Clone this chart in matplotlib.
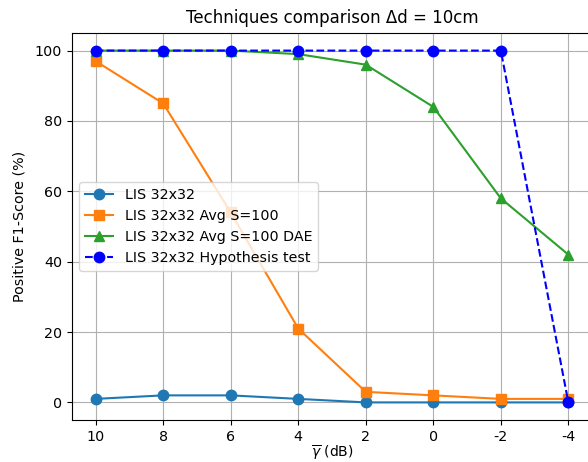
import matplotlib
matplotlib.use("Agg")
import matplotlib.pyplot as plt

x_labels = ["10", "8", "6", "4", "2", "0", "-2", "-4"]
lis = [1, 2, 2, 1, 0, 0, 0, 0]
avg = [97, 85, 54, 21, 3, 2, 1, 1]
dae = [100, 100, 100, 99, 96, 84, 58, 42]
hyp = [100, 100, 100, 100, 100, 100, 100, 0]

plt.rcParams["font.size"] = 10.3
fig = plt.figure(figsize=(5.88, 4.62), dpi=100)
ax = fig.add_axes([72/588, 1-420/462, (592-72)/588, (420-33)/462])
xi = list(range(len(x_labels)))
ms = 7.5
ax.plot(xi, lis, marker="o", ms=ms, color="#1f77b4", label="LIS 32x32")
ax.plot(xi, avg, marker="s", ms=ms, color="#ff7f0e", label="LIS 32x32 Avg S=100")
ax.plot(xi, dae, marker="^", ms=ms, color="#2ca02c", label="LIS 32x32 Avg S=100 DAE")
ax.plot(xi, hyp, marker="o", ms=ms, color="blue", linestyle="--", label="LIS 32x32 Hypothesis test")
ax.set_xticks(xi)
ax.set_xticklabels(x_labels)
ax.set_ylim(-5, 105)
ax.grid(True)
ax.set_xlabel(r"$\overline{\gamma}$ (dB)", labelpad=0, fontsize=10)
ax.set_ylabel("Positive F1-Score (%)", labelpad=6)
ax.set_title("Techniques comparison Δd = 10cm", fontsize=12, pad=7)
ax.legend(loc="center left", fontsize=10.3)
fig.savefig("out.png", dpi=100)
